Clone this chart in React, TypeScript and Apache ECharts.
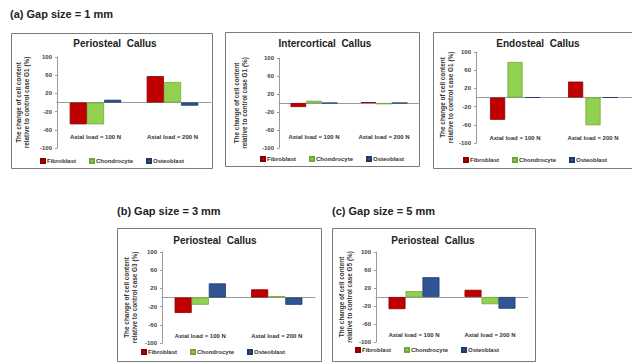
import React, { useEffect, useRef } from 'react';
import * as echarts from 'echarts';

const categories = ['Axial load = 100 N', 'Axial load = 200 N'];
const seriesNames = ['Fibroblast', 'Chondrocyte', 'Osteoblast'];
const yMin = -100;
const yMax = 100;
const yStep = 40;

// (a) Gap size = 1 mm
const gap1PeriostealFibroblast = [-48, 58];
const gap1PeriostealChondrocyte = [-48, 45];
const gap1PeriostealOsteoblast = [6, -7];
const gap1IntercorticalFibroblast = [-9, 2];
const gap1IntercorticalChondrocyte = [5, -3];
const gap1IntercorticalOsteoblast = [0, 0];
const gap1EndostealFibroblast = [-49, 35];
const gap1EndostealChondrocyte = [78, -61];
const gap1EndostealOsteoblast = [0, 0];
// (b) Gap size = 3 mm
const gap3PeriostealFibroblast = [-34, 18];
const gap3PeriostealChondrocyte = [-16, 3];
const gap3PeriostealOsteoblast = [31, -16];
// (c) Gap size = 5 mm
const gap5PeriostealFibroblast = [-27, 16];
const gap5PeriostealChondrocyte = [13, -16];
const gap5PeriostealOsteoblast = [44, -26];

const sectionTitles = ['(a) Gap size = 1 mm', '(b) Gap size = 3 mm', '(c) Gap size = 5 mm'];

const FONT = '"Liberation Sans", Arial, sans-serif';
const fills = ['#c00000', '#92d050', '#2f5597'];
const borders = ['#8a0000', '#70a838', '#1f3864'];

const panels = [
  {
    title: 'Periosteal  Callus', yName: 'The change of cell content\nrelative to control case G1 (%)',
    data: [gap1PeriostealFibroblast, gap1PeriostealChondrocyte, gap1PeriostealOsteoblast],
    box: [11, 33, 201, 135], grid: [57, 57, 154, 91], titleX: 115, titleY: 43, legend: [40, 158], labelTop: 134, nameGap: 27,
  },
  {
    title: 'Intercortical  Callus', yName: 'The change of cell content\nrelative to control case G1 (%)',
    data: [gap1IntercorticalFibroblast, gap1IntercorticalChondrocyte, gap1IntercorticalOsteoblast],
    box: [225, 32, 194, 134], grid: [279, 58, 140, 90], titleX: 325, titleY: 43, legend: [260, 156], labelTop: 134, nameGap: 31,
  },
  {
    title: 'Endosteal  Callus', yName: 'The change of cell content\nrelative to control case G1 (%)',
    data: [gap1EndostealFibroblast, gap1EndostealChondrocyte, gap1EndostealOsteoblast],
    box: [433, 32, 201, 136], grid: [476, 52, 156, 91], titleX: 538, titleY: 43, legend: [463, 157], labelTop: 135, nameGap: 22,
  },
  {
    title: 'Periosteal  Callus', yName: 'The change of cell content\nrelative to control case G3 (%)',
    data: [gap3PeriostealFibroblast, gap3PeriostealChondrocyte, gap3PeriostealOsteoblast],
    box: [117, 228, 204, 133], grid: [162, 252, 153, 91], titleX: 215, titleY: 240, legend: [141, 349], labelTop: 333, nameGap: 24,
  },
  {
    title: 'Periosteal  Callus', yName: 'The change of cell content\nrelative to control case G5 (%)',
    data: [gap5PeriostealFibroblast, gap5PeriostealChondrocyte, gap5PeriostealOsteoblast],
    box: [332, 228, 203, 133], grid: [376, 252, 152, 90], titleX: 433, titleY: 240, legend: [355, 347], labelTop: 332, nameGap: 23,
  },
];

const sectionTitlePos = [[10, 14], [117, 211], [332, 211]];

export default function App() {
  const ref = useRef<HTMLDivElement>(null);
  useEffect(() => {
    if (!ref.current) return;
    const chart = echarts.init(ref.current, null, { renderer: 'svg' });
    const grid: any[] = [];
    const xAxis: any[] = [];
    const yAxis: any[] = [];
    const series: any[] = [];
    const legend: any[] = [];
    const graphic: any[] = [];

    sectionTitles.forEach((t, i) => {
      graphic.push({
        type: 'text', x: sectionTitlePos[i][0], y: sectionTitlePos[i][1],
        style: { text: t, fill: '#222', font: `bold 11px ${FONT}`, textAlign: 'left', align: 'left', textVerticalAlign: 'middle', verticalAlign: 'middle' },
      });
    });

    panels.forEach((p, i) => {
      graphic.push({
        type: 'rect', shape: { x: p.box[0] + 0.5, y: p.box[1] + 0.5, width: p.box[2], height: p.box[3] },
        style: { fill: 'none', stroke: '#7a7a7a', lineWidth: 1 }, z: 0,
      });
      graphic.push({
        type: 'text', x: p.titleX, y: p.titleY,
        style: { text: p.title, fill: '#222', font: `bold 10px ${FONT}`, textAlign: 'center', align: 'center', textVerticalAlign: 'middle', verticalAlign: 'middle' },
      });
      const gridBottom = p.grid[1] + p.grid[3];
      grid.push({ left: p.grid[0], top: p.grid[1], width: p.grid[2], height: p.grid[3], containLabel: false });
      xAxis.push({
        type: 'category', gridIndex: i, data: categories,
        axisLine: { show: true, onZero: true, lineStyle: { color: '#9a9a9a', width: 1 } },
        axisTick: { show: false },
        axisLabel: { margin: p.labelTop - gridBottom, fontSize: 6, fontWeight: 'bold', color: '#333', fontFamily: FONT, interval: 0 },
        splitLine: { show: false },
      });
      yAxis.push({
        type: 'value', gridIndex: i, min: yMin, max: yMax, interval: yStep,
        name: p.yName, nameLocation: 'middle', nameGap: p.nameGap, nameRotate: 90,
        nameTextStyle: { fontSize: 6.4, fontWeight: 'bold', color: '#333', fontFamily: FONT, lineHeight: 7.5 },
        axisLine: { show: true, lineStyle: { color: '#9a9a9a', width: 1 } },
        axisTick: { show: true, length: 2, lineStyle: { color: '#9a9a9a' } },
        axisLabel: { fontSize: 6, fontWeight: 'bold', color: '#444', fontFamily: FONT, margin: 5 },
        splitLine: { show: false },
      });
      p.data.forEach((d, k) => {
        series.push({
          type: 'bar', name: seriesNames[k], xAxisIndex: i, yAxisIndex: i, data: d,
          barGap: i === 2 ? '15%' : '0%', barCategoryGap: i === 2 ? '36%' : '33%',
          itemStyle: { color: fills[k], borderColor: borders[k], borderWidth: 0.8 },
        });
      });
      legend.push({
        left: p.legend[0], top: p.legend[1], padding: 0, itemGap: 13, itemWidth: 4, itemHeight: 4,
        icon: 'rect', data: seriesNames,
        textStyle: { fontSize: 6, fontWeight: 'bold', color: '#333', fontFamily: FONT, padding: [0, 0, 0, -3] },
      });
    });

    chart.setOption({
      animation: false,
      backgroundColor: '#ffffff',
      grid, xAxis, yAxis, series, legend, graphic,
    });
    return () => chart.dispose();
  }, []);
  return <div ref={ref} style={{ position: 'fixed', left: 0, top: 0, width: 632, height: 363 }} />;
}
